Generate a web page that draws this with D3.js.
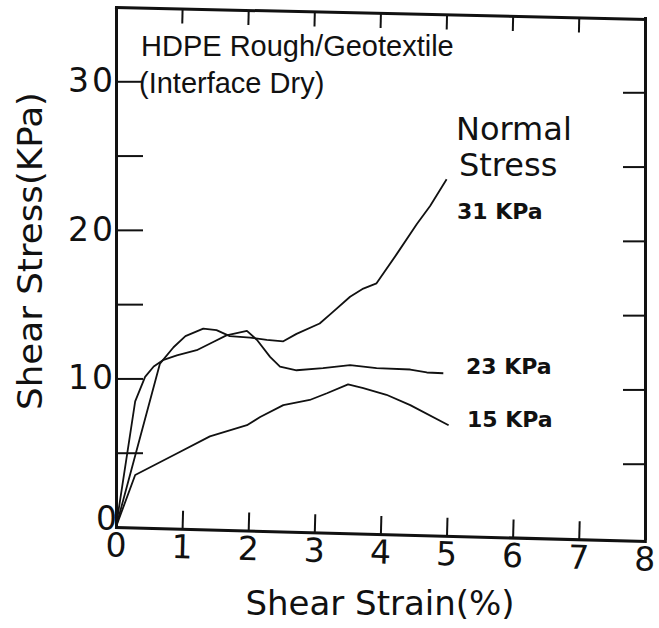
<!DOCTYPE html>
<html>
<head>
<meta charset="utf-8">
<script src="https://cdn.jsdelivr.net/npm/d3@7"></script>
<style>
  body { margin: 0; background: #fff; }
  svg { display: block; }
  .frame path.domain { stroke: #111; stroke-width: 3; stroke-linecap: square; }
  .frame line { stroke: #111; stroke-width: 2; }
  .frame text { font-family: "DejaVu Sans", sans-serif; font-size: 33px; fill: #111; letter-spacing: 3px; }
  .curve { fill: none; stroke: #111; stroke-width: 1.8; stroke-linejoin: round; }
</style>
</head>
<body>
<script>
// strain (%) vs shear stress (KPa)
var strain15 = [0, 0.29, 0.92, 1.42, 1.98, 2.18, 2.53, 2.93, 3.19, 3.51, 3.74, 4.09, 4.45, 5.03];
var stress15 = [0, 3.5, 4.95, 6.1, 6.85, 7.4, 8.2, 8.55, 9.0, 9.6, 9.35, 8.9, 8.2, 6.85];

var strain23 = [0, 0.29, 0.44, 0.57, 0.72, 0.92, 1.22, 1.47, 1.67, 1.98, 2.13, 2.33, 2.48, 2.73, 3.13, 3.54, 3.94, 4.45, 4.7, 4.95];
var stress23 = [0, 8.45, 10.1, 10.8, 11.25, 11.55, 11.9, 12.45, 12.9, 13.2, 12.6, 11.45, 10.8, 10.55, 10.7, 10.9, 10.7, 10.6, 10.4, 10.35];

var strain31 = [0, 0.665, 0.87, 1.05, 1.32, 1.52, 1.72, 2.03, 2.28, 2.53, 2.73, 3.08, 3.26, 3.54, 3.74, 3.94, 4.25, 4.55, 4.75, 5.0];
var stress31 = [0, 11.0, 12.1, 12.85, 13.35, 13.25, 12.85, 12.75, 12.6, 12.5, 13.0, 13.7, 14.4, 15.5, 16.05, 16.4, 18.4, 20.4, 21.6, 23.4];

var xTicks = [0, 1, 2, 3, 4, 5, 6, 7, 8];
var yTicks = [0, 5, 10, 15, 20, 25, 30];
var yLabels = [0, 10, 20, 30];

var W = 659, H = 628;
var pLeft = 116, pRight = 645, pTop = 7, pBottom = 527;
var tilt = 14; // the scanned frame sags on the right

var svg = d3.select("body").append("svg").attr("width", W).attr("height", H);

var x = d3.scaleLinear().domain([0, 8]).range([pLeft, pRight]);
var y = d3.scaleLinear().domain([0, 35]).range([pBottom, pTop]);
var angle = Math.atan2(tilt, pRight - pLeft) * 180 / Math.PI;

// left axis
var gl = svg.append("g").attr("class", "frame").attr("transform", "translate(" + pLeft + ",0)")
    .call(d3.axisLeft(y).tickValues(yTicks).tickSize(-27).tickSizeOuter(0).tickPadding(0)
        .tickFormat(function(d) { return yLabels.indexOf(d) >= 0 ? d : ""; }));
gl.selectAll(".tick").filter(function(d) { return d === 0; }).select("line").remove();
gl.selectAll(".tick").filter(function(d) { return d === 0; }).select("text").attr("y", -8).attr("x", 4);

// right axis
var gr = svg.append("g").attr("class", "frame").attr("transform", "translate(" + pRight + "," + (tilt - 3) + ")")
    .call(d3.axisRight(y).tickValues(yTicks.slice(1)).tickSize(-22).tickSizeOuter(0).tickFormat(""));

// bottom axis
var gb = svg.append("g").attr("class", "frame")
    .attr("transform", "rotate(" + angle + "," + pLeft + "," + pBottom + ") translate(0," + pBottom + ")")
    .call(d3.axisBottom(x).tickValues(xTicks).tickSize(-18).tickSizeOuter(0).tickPadding(6));
gb.selectAll(".tick").filter(function(d) { return d === 0 || d === 8; }).select("line").remove();
gb.selectAll(".tick text").attr("dx", 1.5);

// top axis
var gt = svg.append("g").attr("class", "frame")
    .attr("transform", "rotate(" + (angle * 0.85) + "," + pLeft + "," + pTop + ") translate(0," + pTop + ")")
    .call(d3.axisTop(x).tickValues(xTicks.slice(1, 8)).tickSize(-15).tickSizeOuter(0).tickFormat(""));

// curves
var line = d3.line().x(function(d) { return x(d[0]); }).y(function(d) { return y(d[1]); });
var series = [
    { name: "15 KPa", xs: strain15, ys: stress15 },
    { name: "23 KPa", xs: strain23, ys: stress23 },
    { name: "31 KPa", xs: strain31, ys: stress31 }
];
svg.selectAll("path.curve").data(series).enter().append("path")
    .attr("class", "curve")
    .attr("d", function(s) { return line(d3.zip(s.xs, s.ys)); });

// annotations
var note = svg.append("g").attr("font-family", "'Liberation Sans', Arial, sans-serif").attr("font-size", 29).attr("fill", "#111");
note.append("text").attr("x", 141).attr("y", 56).text("HDPE Rough/Geotextile");
note.append("text").attr("x", 139).attr("y", 93).text("(Interface Dry)");

var lbl = svg.append("g").attr("font-family", "'DejaVu Sans', sans-serif").attr("fill", "#111");
lbl.append("text").attr("x", 456).attr("y", 140).attr("font-size", 32).text("Normal");
lbl.append("text").attr("x", 459).attr("y", 176).attr("font-size", 32).text("Stress");
lbl.append("text").attr("x", 457).attr("y", 219).attr("font-size", 22).attr("font-weight", "bold").text("31 KPa");
lbl.append("text").attr("x", 466).attr("y", 374).attr("font-size", 22).attr("font-weight", "bold").text("23 KPa");
lbl.append("text").attr("x", 467).attr("y", 427).attr("font-size", 22).attr("font-weight", "bold").text("15 KPa");

// axis titles
lbl.append("text").attr("x", 380).attr("y", 615).attr("text-anchor", "middle").attr("font-size", 34)
    .text("Shear Strain(%)");
lbl.append("text").attr("transform", "translate(42,251) rotate(-90)").attr("text-anchor", "middle")
    .attr("font-size", 34).attr("textLength", 318).attr("lengthAdjust", "spacingAndGlyphs")
    .text("Shear Stress(KPa)");
</script>
</body>
</html>
